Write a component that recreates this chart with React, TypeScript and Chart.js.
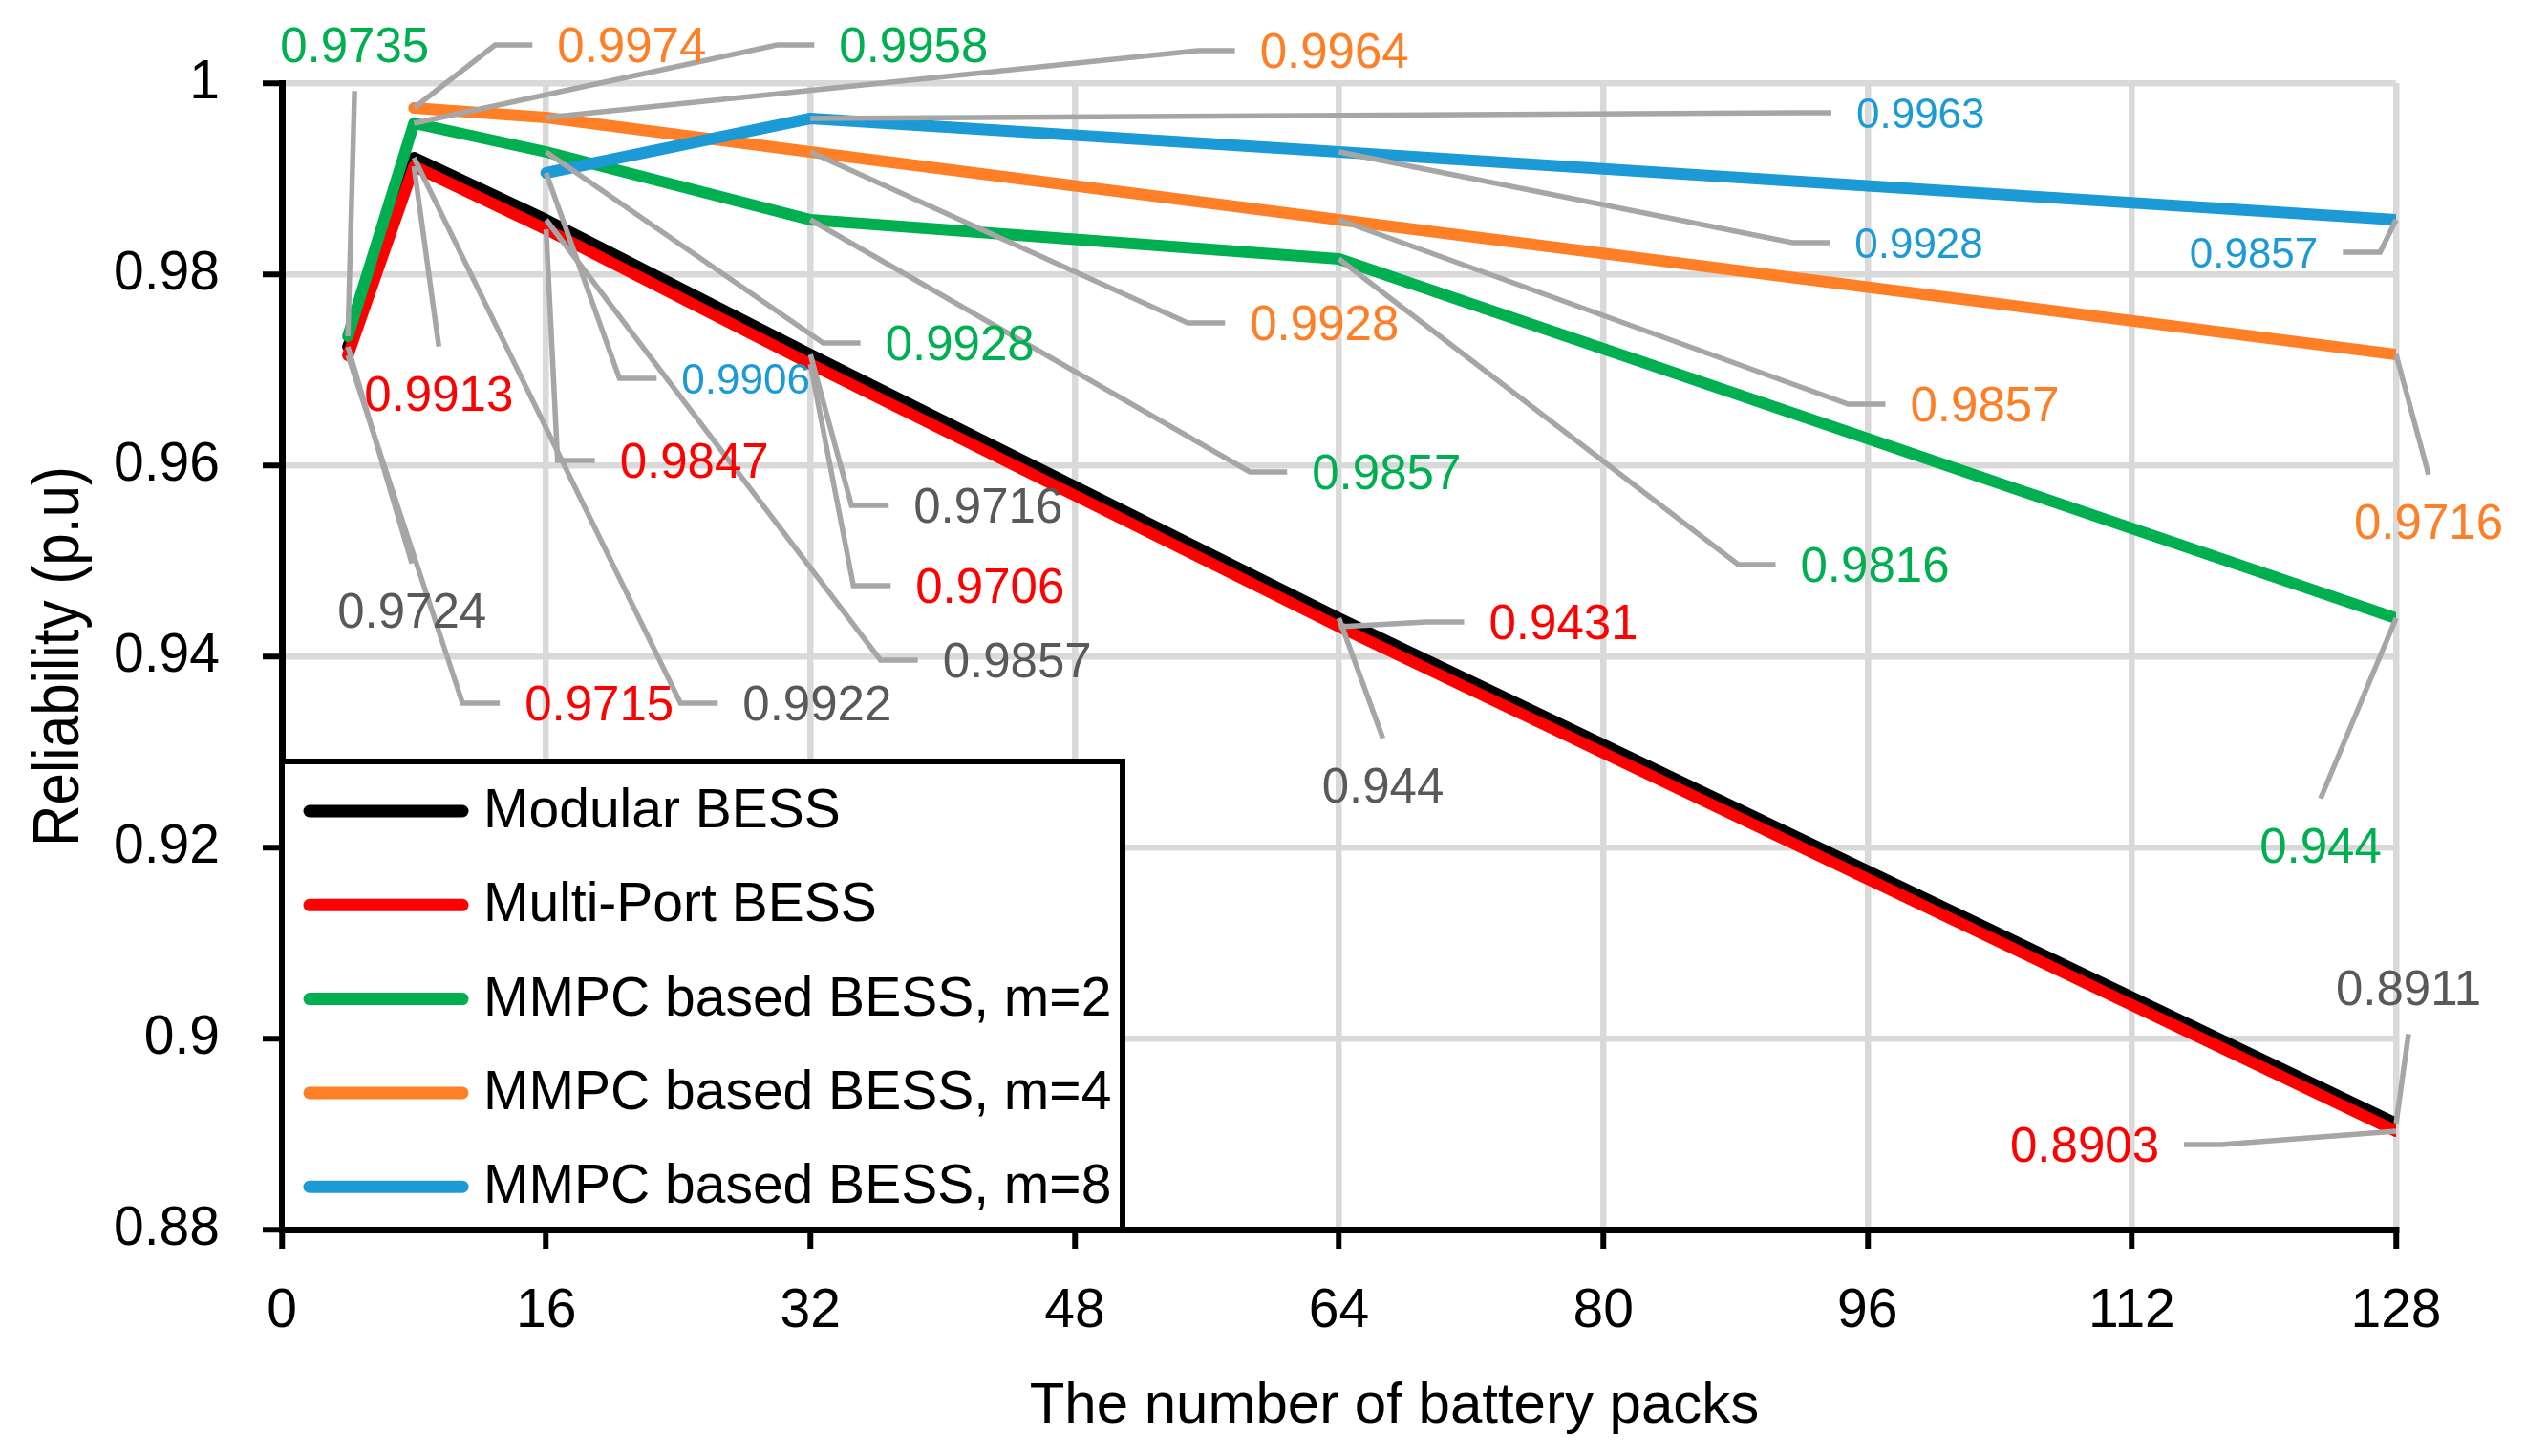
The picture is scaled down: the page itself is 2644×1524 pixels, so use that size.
import React, { useEffect, useRef } from "react";
import { Chart, registerables } from "chart.js";

Chart.register(...registerables);

// ---------- data ----------
const packs = [4, 8, 16, 32, 64, 128];
const seriesNames = [
  "Modular BESS",
  "Multi-Port BESS",
  "MMPC based BESS, m=2",
  "MMPC based BESS, m=4",
  "MMPC based BESS, m=8",
];
const modular = [0.9724, 0.9922, 0.9857, 0.9716, 0.944, 0.8911];
const multiPort = [0.9715, 0.9913, 0.9847, 0.9706, 0.9431, 0.8903];
const mmpcM2 = [0.9735, 0.9958, 0.9928, 0.9857, 0.9816, 0.944];
const mmpcM4 = [null, 0.9974, 0.9964, 0.9928, 0.9857, 0.9716];
const mmpcM8 = [null, null, 0.9906, 0.9963, 0.9928, 0.9857];
const seriesValues: (number | null)[][] = [modular, multiPort, mmpcM2, mmpcM4, mmpcM8];

const xTitle = "The number of battery packs";
const yTitle = "Reliability (p.u)";
const xMin = 0, xMax = 128, xStep = 16;
const yMin = 0.88, yMax = 1, yStep = 0.02;

// ---------- styles ----------
const lineColors = ["#000000", "#FF0000", "#00B050", "#FF7F27", "#1C9AD6"];
const labelColors = ["#595959", "#FF0000", "#00B050", "#FF7F27", "#1C9AD6"];
const labelFontSizes = [51, 51, 51, 51, 44];
const FONT = '"Liberation Sans", Arial, sans-serif';

// label placement: pixel offset of label centre from its point, and side the leader joins
type Pos = [number, number, string] | null;
const modularLabelPos: Pos[] = [[67, 276, "T"], [422, 571, "L"], [493, 461, "L"], [186, 158, "L"], [46, 175, "T"], [13, -142, "B"]];
const multiPortLabelPos: Pos[] = [[263, 364, "L"], [26, 238, "T"], [155, 242, "L"], [188, 232, "L"], [235, -5, "L"], [-326, 14, "R"]];
const m2LabelPos: Pos[] = [[7, -305, "B"], [523, -82, "L"], [433, 200, "L"], [603, 264, "L"], [561, 320, "L"], [-79, 238, "T"]];
const m4LabelPos: Pos[] = [null, [228, -66, "L"], [825, -70, "L"], [538, 179, "L"], [676, 193, "L"], [34, 175, "T"]];
const m8LabelPos: Pos[] = [null, null, [209, 215, "L"], [1162, -6, "L"], [607, 95, "L"], [-149, 34, "R"]];
const labelPositions = [modularLabelPos, multiPortLabelPos, m2LabelPos, m4LabelPos, m8LabelPos];

const leaderLabelsPlugin = {
  id: "leaderLabels",
  afterDatasetsDraw(chart: any) {
    const { ctx } = chart;
    const xs = chart.scales.x;
    const ys = chart.scales.y;
    const items: any[] = [];
    seriesValues.forEach((vals, di) => {
      vals.forEach((v, i) => {
        const pos = labelPositions[di][i];
        if (v === null || !pos) return;
        const px = xs.getPixelForValue(packs[i]);
        const py = ys.getPixelForValue(v);
        const fs = labelFontSizes[di];
        ctx.font = `${fs}px ${FONT}`;
        const text = String(v);
        const w = ctx.measureText(text).width;
        const cap = 0.716 * fs;
        const cx = px + pos[0];
        const cy = py + pos[1];
        let pts: number[][];
        if (pos[2] === "L") {
          const ex = cx - w / 2 - 26;
          pts = [[px, py], [ex - 39, cy], [ex, cy]];
        } else if (pos[2] === "R") {
          const ex = cx + w / 2 + 26;
          pts = [[px, py], [ex + 39, cy], [ex, cy]];
        } else if (pos[2] === "T") {
          pts = [[px, py], [cx, cy - cap / 2 - 31]];
        } else {
          pts = [[px, py], [cx, cy + cap / 2 + 30]];
        }
        items.push({ text, cx, cy, cap, fs, color: labelColors[di], pts });
      });
    });
    ctx.save();
    ctx.strokeStyle = "#A6A6A6";
    ctx.lineWidth = 5.5;
    ctx.lineJoin = "miter";
    ctx.lineCap = "butt";
    items.forEach((it) => {
      ctx.beginPath();
      it.pts.forEach((p: number[], k: number) => (k === 0 ? ctx.moveTo(p[0], p[1]) : ctx.lineTo(p[0], p[1])));
      ctx.stroke();
    });
    ctx.textAlign = "center";
    ctx.textBaseline = "alphabetic";
    items.forEach((it) => {
      ctx.font = `${it.fs}px ${FONT}`;
      ctx.fillStyle = it.color;
      ctx.fillText(it.text, it.cx, it.cy + it.cap / 2);
    });
    ctx.restore();
  },
};

const legendPlugin = {
  id: "boxLegend",
  afterDraw(chart: any) {
    const { ctx, chartArea } = chart;
    const boxW = 880;
    const boxH = 490;
    const left = chartArea.left;
    const top = chartArea.bottom - boxH;
    ctx.save();
    ctx.fillStyle = "#FFFFFF";
    ctx.fillRect(left, top, boxW, boxH);
    ctx.strokeStyle = "#000000";
    ctx.lineWidth = 6;
    ctx.strokeRect(left, top, boxW, boxH);
    ctx.font = `57px ${FONT}`;
    ctx.textAlign = "left";
    ctx.textBaseline = "alphabetic";
    chart.data.datasets.forEach((ds: any, i: number) => {
      const cy = top + 52 + i * 98.3;
      ctx.strokeStyle = ds.borderColor;
      ctx.lineWidth = 13;
      ctx.lineCap = "round";
      ctx.beginPath();
      ctx.moveTo(left + 29, cy);
      ctx.lineTo(left + 189, cy);
      ctx.stroke();
      ctx.fillStyle = "#000000";
      ctx.fillText(ds.label, left + 211, cy + 17);
    });
    ctx.restore();
  },
};

const axisTitlesPlugin = {
  id: "axisTitles",
  afterDraw(chart: any) {
    const { ctx, chartArea } = chart;
    ctx.save();
    ctx.fillStyle = "#000000";
    ctx.textAlign = "center";
    ctx.textBaseline = "alphabetic";
    ctx.font = `60px ${FONT}`;
    ctx.fillText(xTitle, (chartArea.left + chartArea.right) / 2 + 58, chartArea.bottom + 202);
    ctx.translate(82, (chartArea.top + chartArea.bottom) / 2);
    ctx.rotate(-Math.PI / 2);
    ctx.scale(0.885, 1);
    ctx.font = `68px ${FONT}`;
    ctx.fillText(yTitle, 0, 0);
    ctx.restore();
  },
};

const near = (a: number, b: number) => Math.abs(a - b) < 1e-9;

export default function App() {
  const ref = useRef<HTMLCanvasElement | null>(null);
  useEffect(() => {
    if (!ref.current) return;
    Chart.defaults.font.family = FONT;
    const chart = new Chart(ref.current, {
      type: "line",
      data: {
        datasets: seriesNames.map((name, i) => ({
          label: name,
          data: packs
            .map((p, j) => ({ x: p, y: seriesValues[i][j] }))
            .filter((pt) => pt.y !== null) as any,
          borderColor: lineColors[i],
          backgroundColor: lineColors[i],
          borderWidth: 12,
          borderCapStyle: "round",
          borderJoinStyle: "round",
          pointRadius: 0,
          pointHoverRadius: 0,
          tension: 0,
          fill: false,
          order: seriesNames.length - 1 - i,
        })),
      },
      options: {
        animation: false,
        responsive: false,
        devicePixelRatio: 1,
        events: [],
        layout: { padding: { top: 87, right: 136, left: 0, bottom: 0 } },
        plugins: {
          legend: { display: false },
          tooltip: { enabled: false },
          title: { display: false },
        },
        scales: {
          x: {
            type: "linear",
            min: xMin,
            max: xMax,
            ticks: {
              stepSize: xStep,
              padding: 32,
              color: "#000000",
              font: { size: 57, family: FONT },
              maxRotation: 0,
              autoSkip: false,
            },
            grid: {
              color: (c: any) => (c.tick && near(c.tick.value, xMin) ? "rgba(0,0,0,0)" : "#D9D9D9"),
              lineWidth: 6.5,
              tickColor: "#000000",
              tickLength: 20,
              tickWidth: 6,
            },
            border: { color: "#000000", width: 7 },
            afterFit: (s: any) => {
              s.height = 237;
            },
          },
          y: {
            type: "linear",
            min: yMin,
            max: yMax,
            ticks: {
              stepSize: yStep,
              padding: 45,
              color: "#000000",
              font: { size: 57, family: FONT },
              callback: (v: any) => String(parseFloat(Number(v).toFixed(4))),
            },
            grid: {
              color: (c: any) => (c.tick && near(c.tick.value, yMin) ? "rgba(0,0,0,0)" : "#D9D9D9"),
              lineWidth: 6.5,
              tickColor: "#000000",
              tickLength: 20,
              tickWidth: 6,
            },
            border: { color: "#000000", width: 7 },
            afterFit: (s: any) => {
              s.width = 295;
            },
          },
        },
      } as any,
      plugins: [leaderLabelsPlugin, legendPlugin, axisTitlesPlugin],
    } as any);
    return () => chart.destroy();
  }, []);
  return (
    <div style={{ position: "absolute", left: 0, top: 0, width: 2644, height: 1524, background: "#FFFFFF" }}>
      <canvas ref={ref} width={2644} height={1524} style={{ width: 2644, height: 1524, display: "block" }} />
    </div>
  );
}
